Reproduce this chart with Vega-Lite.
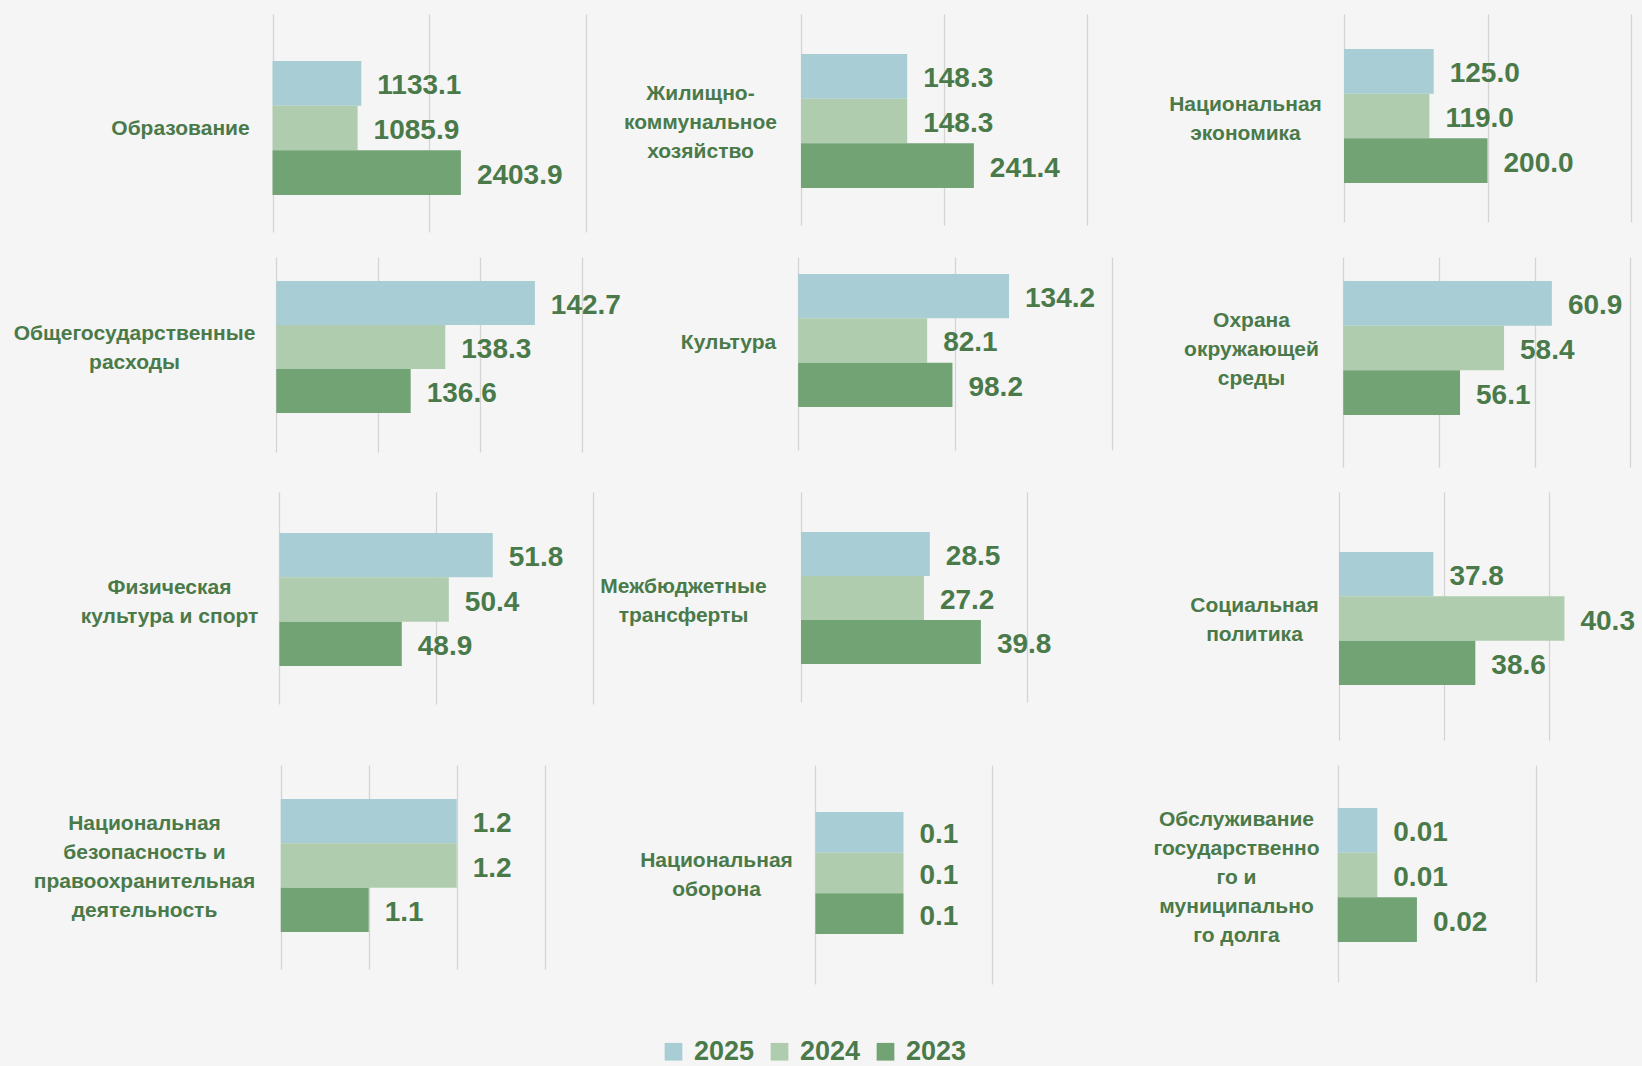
{
  "$schema": "https://vega.github.io/schema/vega-lite/v6.json",
  "autosize": {"type": "none"},
  "padding": {"left": 0, "top": 14, "right": 1642, "bottom": 1052},
  "background": "#f5f5f5",
  "data": {"values": [
    {"category": "Образование", "year": "2025", "value": 1133.1},
    {"category": "Образование", "year": "2024", "value": 1085.9},
    {"category": "Образование", "year": "2023", "value": 2403.9},
    {"category": "Жилищно-коммунальное хозяйство", "year": "2025", "value": 148.3},
    {"category": "Жилищно-коммунальное хозяйство", "year": "2024", "value": 148.3},
    {"category": "Жилищно-коммунальное хозяйство", "year": "2023", "value": 241.4},
    {"category": "Национальная экономика", "year": "2025", "value": 125.0},
    {"category": "Национальная экономика", "year": "2024", "value": 119.0},
    {"category": "Национальная экономика", "year": "2023", "value": 200.0},
    {"category": "Общегосударственные расходы", "year": "2025", "value": 142.7},
    {"category": "Общегосударственные расходы", "year": "2024", "value": 138.3},
    {"category": "Общегосударственные расходы", "year": "2023", "value": 136.6},
    {"category": "Культура", "year": "2025", "value": 134.2},
    {"category": "Культура", "year": "2024", "value": 82.1},
    {"category": "Культура", "year": "2023", "value": 98.2},
    {"category": "Охрана окружающей среды", "year": "2025", "value": 60.9},
    {"category": "Охрана окружающей среды", "year": "2024", "value": 58.4},
    {"category": "Охрана окружающей среды", "year": "2023", "value": 56.1},
    {"category": "Физическая культура и спорт", "year": "2025", "value": 51.8},
    {"category": "Физическая культура и спорт", "year": "2024", "value": 50.4},
    {"category": "Физическая культура и спорт", "year": "2023", "value": 48.9},
    {"category": "Межбюджетные трансферты", "year": "2025", "value": 28.5},
    {"category": "Межбюджетные трансферты", "year": "2024", "value": 27.2},
    {"category": "Межбюджетные трансферты", "year": "2023", "value": 39.8},
    {"category": "Социальная политика", "year": "2025", "value": 37.8},
    {"category": "Социальная политика", "year": "2024", "value": 40.3},
    {"category": "Социальная политика", "year": "2023", "value": 38.6},
    {"category": "Национальная безопасность и правоохранительная деятельность", "year": "2025", "value": 1.2},
    {"category": "Национальная безопасность и правоохранительная деятельность", "year": "2024", "value": 1.2},
    {"category": "Национальная безопасность и правоохранительная деятельность", "year": "2023", "value": 1.1},
    {"category": "Национальная оборона", "year": "2025", "value": 0.1},
    {"category": "Национальная оборона", "year": "2024", "value": 0.1},
    {"category": "Национальная оборона", "year": "2023", "value": 0.1},
    {"category": "Обслуживание государственного и муниципального долга", "year": "2025", "value": 0.01},
    {"category": "Обслуживание государственного и муниципального долга", "year": "2024", "value": 0.01},
    {"category": "Обслуживание государственного и муниципального долга", "year": "2023", "value": 0.02}
  ]},
  "columns": 3,
  "align": "none",
  "bounds": "flush",
  "spacing": {"row": 25, "column": 0},
  "concat": [
    {
      "width": 600, "height": 218,
      "transform": [{"filter": {"field": "category", "equal": "Образование"}}],
      "encoding": {
        "y": {"field": "year", "type": "nominal", "sort": ["2025", "2024", "2023"], "scale": {"paddingInner": 0, "paddingOuter": 0.94, "align": 0.5595}, "axis": {"title": "Образование", "titleX": 180, "titleY": 114.5}},
        "x": {"field": "value", "type": "quantitative", "stack": null, "scale": {"domain": [-3476.9, 4178.6], "nice": false, "zero": false}, "axis": {"values": [0, 2000, 4000], "title": null}}
      },
      "layer": [
        {"mark": "bar", "encoding": {"x2": {"datum": 0}, "color": {"field": "year", "type": "nominal", "scale": {"domain": ["2025", "2024", "2023"], "range": ["#A8CDD4", "#AFCDAE", "#71A375"]}, "legend": {"title": null}}}},
        {"mark": "text", "encoding": {"text": {"field": "value", "format": ".1f"}}}
      ]
    },
    {
      "width": 525, "height": 211,
      "transform": [{"filter": {"field": "category", "equal": "Жилищно-коммунальное хозяйство"}}],
      "encoding": {
        "y": {"field": "year", "type": "nominal", "sort": ["2025", "2024", "2023"], "scale": {"paddingInner": 0, "paddingOuter": 0.862, "align": 0.519}, "axis": {"title": ["Жилищно-", "коммунальное", "хозяйство"], "titleX": 100, "titleY": 79.5}},
        "x": {"field": "value", "type": "quantitative", "stack": null, "scale": {"domain": [-280.6, 452.4], "nice": false, "zero": false}, "axis": {"values": [0, 200, 400], "title": null}}
      },
      "layer": [
        {"mark": "bar", "encoding": {"x2": {"datum": 0}, "color": {"field": "year", "type": "nominal", "scale": {"domain": ["2025", "2024", "2023"], "range": ["#A8CDD4", "#AFCDAE", "#71A375"]}, "legend": {"title": null}}}},
        {"mark": "text", "encoding": {"text": {"field": "value", "format": ".1f"}}}
      ]
    },
    {
      "width": 517, "height": 208,
      "transform": [{"filter": {"field": "category", "equal": "Национальная экономика"}}],
      "encoding": {
        "y": {"field": "year", "type": "nominal", "sort": ["2025", "2024", "2023"], "scale": {"paddingInner": 0, "paddingOuter": 0.828, "align": 0.473}, "axis": {"title": ["Национальная", "экономика"], "titleX": 120, "titleY": 90.5}},
        "x": {"field": "value", "type": "quantitative", "stack": null, "scale": {"domain": [-305.2, 415.3], "nice": false, "zero": false}, "axis": {"values": [0, 200, 400], "title": null}}
      },
      "layer": [
        {"mark": "bar", "encoding": {"x2": {"datum": 0}, "color": {"field": "year", "type": "nominal", "scale": {"domain": ["2025", "2024", "2023"], "range": ["#A8CDD4", "#AFCDAE", "#71A375"]}, "legend": {"title": null}}}},
        {"mark": "text", "encoding": {"text": {"field": "value", "format": ".1f"}}}
      ]
    },
    {
      "width": 600, "height": 195,
      "transform": [{"filter": {"field": "category", "equal": "Общегосударственные расходы"}}],
      "encoding": {
        "y": {"field": "year", "type": "nominal", "sort": ["2025", "2024", "2023"], "scale": {"paddingInner": 0, "paddingOuter": 0.716, "align": 0.381}, "axis": {"title": ["Общегосударственные", "расходы"], "titleX": 134, "titleY": 76.5}},
        "x": {"field": "value", "type": "quantitative", "stack": null, "scale": {"domain": [116.429, 145.899], "nice": false, "zero": false}, "axis": {"values": [130, 135, 140, 145], "title": null}}
      },
      "layer": [
        {"mark": "bar", "encoding": {"x2": {"datum": 130}, "color": {"field": "year", "type": "nominal", "scale": {"domain": ["2025", "2024", "2023"], "range": ["#A8CDD4", "#AFCDAE", "#71A375"]}, "legend": {"title": null}}}},
        {"mark": "text", "encoding": {"text": {"field": "value", "format": ".1f"}}}
      ]
    },
    {
      "width": 525, "height": 193,
      "transform": [{"filter": {"field": "category", "equal": "Культура"}}],
      "encoding": {
        "y": {"field": "year", "type": "nominal", "sort": ["2025", "2024", "2023"], "scale": {"paddingInner": 0, "paddingOuter": 0.677, "align": 0.283}, "axis": {"title": "Культура", "titleX": 128, "titleY": 85.5}},
        "x": {"field": "value", "type": "quantitative", "stack": null, "scale": {"domain": [-126.1, 208.0], "nice": false, "zero": false}, "axis": {"values": [0, 100, 200], "title": null}}
      },
      "layer": [
        {"mark": "bar", "encoding": {"x2": {"datum": 0}, "color": {"field": "year", "type": "nominal", "scale": {"domain": ["2025", "2024", "2023"], "range": ["#A8CDD4", "#AFCDAE", "#71A375"]}, "legend": {"title": null}}}},
        {"mark": "text", "encoding": {"text": {"field": "value", "format": ".1f"}}}
      ]
    },
    {
      "width": 517, "height": 210,
      "transform": [{"filter": {"field": "category", "equal": "Охрана окружающей среды"}}],
      "encoding": {
        "y": {"field": "year", "type": "nominal", "sort": ["2025", "2024", "2023"], "scale": {"paddingInner": 0, "paddingOuter": 0.851, "align": 0.316}, "axis": {"title": ["Охрана", "окружающей", "среды"], "titleX": 126, "titleY": 63.5}},
        "x": {"field": "value", "type": "quantitative", "stack": null, "scale": {"domain": [38.59, 65.61], "nice": false, "zero": false}, "axis": {"values": [50, 55, 60, 65], "title": null}}
      },
      "layer": [
        {"mark": "bar", "encoding": {"x2": {"datum": 50}, "color": {"field": "year", "type": "nominal", "scale": {"domain": ["2025", "2024", "2023"], "range": ["#A8CDD4", "#AFCDAE", "#71A375"]}, "legend": {"title": null}}}},
        {"mark": "text", "encoding": {"text": {"field": "value", "format": ".1f"}}}
      ]
    },
    {
      "width": 600, "height": 212,
      "transform": [{"filter": {"field": "category", "equal": "Физическая культура и спорт"}}],
      "encoding": {
        "y": {"field": "year", "type": "nominal", "sort": ["2025", "2024", "2023"], "scale": {"paddingInner": 0, "paddingOuter": 0.891, "align": 0.519}, "axis": {"title": ["Физическая", "культура и спорт"], "titleX": 169, "titleY": 95}},
        "x": {"field": "value", "type": "quantitative", "stack": null, "scale": {"domain": [36.096, 55.217], "nice": false, "zero": false}, "axis": {"values": [45, 50, 55], "title": null}}
      },
      "layer": [
        {"mark": "bar", "encoding": {"x2": {"datum": 45}, "color": {"field": "year", "type": "nominal", "scale": {"domain": ["2025", "2024", "2023"], "range": ["#A8CDD4", "#AFCDAE", "#71A375"]}, "legend": {"title": null}}}},
        {"mark": "text", "encoding": {"text": {"field": "value", "format": ".1f"}}}
      ]
    },
    {
      "width": 525, "height": 210,
      "transform": [{"filter": {"field": "category", "equal": "Межбюджетные трансферты"}}],
      "encoding": {
        "y": {"field": "year", "type": "nominal", "sort": ["2025", "2024", "2023"], "scale": {"paddingInner": 0, "paddingOuter": 0.886, "align": 0.513}, "axis": {"title": ["Межбюджетные", "трансферты"], "titleX": 83, "titleY": 94}},
        "x": {"field": "value", "type": "quantitative", "stack": null, "scale": {"domain": [-44.47, 71.68], "nice": false, "zero": false}, "axis": {"values": [0, 50], "title": null}}
      },
      "layer": [
        {"mark": "bar", "encoding": {"x2": {"datum": 0}, "color": {"field": "year", "type": "nominal", "scale": {"domain": ["2025", "2024", "2023"], "range": ["#A8CDD4", "#AFCDAE", "#71A375"]}, "legend": {"title": null}}}},
        {"mark": "text", "encoding": {"text": {"field": "value", "format": ".1f"}}}
      ]
    },
    {
      "width": 517, "height": 248,
      "transform": [{"filter": {"field": "category", "equal": "Социальная политика"}}],
      "encoding": {
        "y": {"field": "year", "type": "nominal", "scale": {"domain": ["pad-top", "2025", "2024", "2023", "pad-bottom"], "paddingInner": 0, "paddingOuter": 0.297, "align": 0.595}, "axis": {"title": ["Социальная", "политика"], "titleX": 129, "titleY": 113.5}},
        "x": {"field": "value", "type": "quantitative", "stack": null, "scale": {"domain": [31.918, 41.779], "nice": false, "zero": false}, "axis": {"values": [36, 38, 40], "title": null}}
      },
      "layer": [
        {"mark": "bar", "encoding": {"x2": {"datum": 36}, "color": {"field": "year", "type": "nominal", "scale": {"domain": ["2025", "2024", "2023"], "range": ["#A8CDD4", "#AFCDAE", "#71A375"]}, "legend": {"title": null}}}},
        {"mark": "text", "encoding": {"text": {"field": "value", "format": ".1f"}}}
      ]
    },
    {
      "width": 600, "height": 204,
      "transform": [{"filter": {"field": "category", "equal": "Национальная безопасность и правоохранительная деятельность"}}],
      "encoding": {
        "y": {"field": "year", "type": "nominal", "sort": ["2025", "2024", "2023"], "scale": {"paddingInner": 0, "paddingOuter": 0.801, "align": 0.479}, "axis": {"title": ["Национальная", "безопасность и", "правоохранительная", "деятельность"], "titleX": 144, "titleY": 58}},
        "x": {"field": "value", "type": "quantitative", "stack": null, "scale": {"domain": [0.681, 1.3628], "nice": false, "zero": false}, "axis": {"values": [1.0, 1.1, 1.2, 1.3], "title": null}}
      },
      "layer": [
        {"mark": "bar", "encoding": {"x2": {"datum": 1.0}, "color": {"field": "year", "type": "nominal", "scale": {"domain": ["2025", "2024", "2023"], "range": ["#A8CDD4", "#AFCDAE", "#71A375"]}, "legend": {"title": null}}}},
        {"mark": "text", "encoding": {"text": {"field": "value", "format": ".1f"}}}
      ]
    },
    {
      "width": 525, "height": 219,
      "transform": [{"filter": {"field": "category", "equal": "Национальная оборона"}}],
      "encoding": {
        "y": {"field": "year", "type": "nominal", "scale": {"domain": ["pad-top", "2025", "2024", "2023", "pad-bottom"], "paddingInner": 0, "paddingOuter": 0.192, "align": 0.404}, "axis": {"title": ["Национальная", "оборона"], "titleX": 116, "titleY": 95.5}},
        "x": {"field": "value", "type": "quantitative", "stack": null, "scale": {"domain": [-0.2445, 0.3514], "nice": false, "zero": false}, "axis": {"values": [0, 0.2], "title": null}}
      },
      "layer": [
        {"mark": "bar", "encoding": {"x2": {"datum": 0}, "color": {"field": "year", "type": "nominal", "scale": {"domain": ["2025", "2024", "2023"], "range": ["#A8CDD4", "#AFCDAE", "#71A375"]}, "legend": {"title": null}}}},
        {"mark": "text", "encoding": {"text": {"field": "value", "format": ".1f"}}}
      ]
    },
    {
      "width": 517, "height": 217,
      "transform": [{"filter": {"field": "category", "equal": "Обслуживание государственного и муниципального долга"}}],
      "encoding": {
        "y": {"field": "year", "type": "nominal", "sort": ["2025", "2024", "2023"], "scale": {"paddingInner": 0, "paddingOuter": 0.929, "align": 0.518}, "axis": {"title": ["Обслуживание", "государственно", "го и", "муниципально", "го долга"], "titleX": 111, "titleY": 54.5}},
        "x": {"field": "value", "type": "quantitative", "stack": null, "scale": {"domain": [-0.05371, 0.07684], "nice": false, "zero": false}, "axis": {"values": [0, 0.05], "title": null}}
      },
      "layer": [
        {"mark": "bar", "encoding": {"x2": {"datum": 0}, "color": {"field": "year", "type": "nominal", "scale": {"domain": ["2025", "2024", "2023"], "range": ["#A8CDD4", "#AFCDAE", "#71A375"]}, "legend": {"title": null}}}},
        {"mark": "text", "encoding": {"text": {"field": "value", "format": ".2f"}}}
      ]
    }
  ],
  "config": {
    "view": {"stroke": null},
    "font": "Liberation Sans",
    "axis": {"domain": false, "ticks": false, "labels": false, "grid": false},
    "axisX": {"grid": true, "gridColor": "#d4d4d4", "gridWidth": 1.3},
    "axisY": {"titleAngle": 0, "titleAlign": "center", "titleBaseline": "middle", "titleFont": "Liberation Sans", "titleFontSize": 21, "titleFontWeight": "bold", "titleColor": "#4a7a4a", "titleLineHeight": 29, "titlePadding": 0},
    "text": {"font": "Liberation Sans", "fontSize": 28, "fontWeight": "bold", "color": "#4a7a4a", "align": "left", "baseline": "middle", "dx": 16, "dy": 3},
    "legend": {"orient": "none", "legendX": 660, "legendY": 1024, "direction": "horizontal", "symbolType": "square", "symbolSize": 313, "symbolStrokeWidth": 0, "symbolOpacity": 1, "labelFont": "Liberation Sans", "labelFontSize": 27, "labelFontWeight": "bold", "labelColor": "#4a7a4a", "labelOffset": 7, "columnPadding": 11, "padding": 0}
  }
}
